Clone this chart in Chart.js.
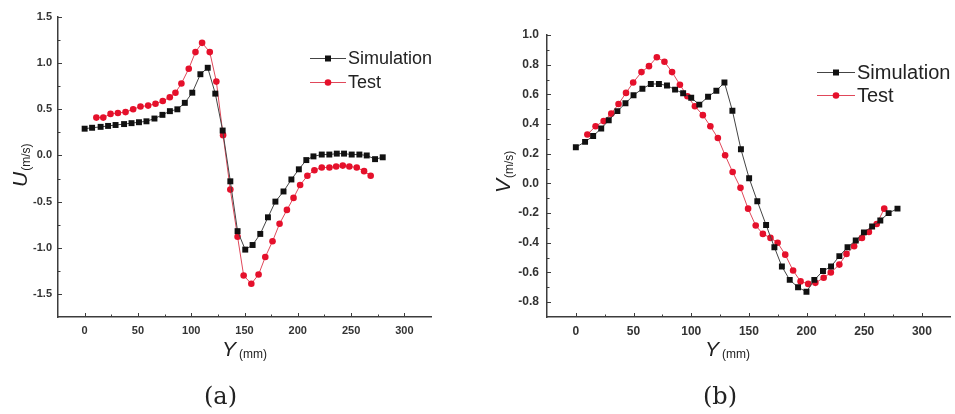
<!DOCTYPE html>
<html>
<head>
<meta charset="utf-8">
<script src="https://cdn.jsdelivr.net/npm/chart.js@4.4.1/dist/chart.umd.min.js"></script>
<style>
  html, body { margin: 0; padding: 0; background: #fff; }
  body { width: 955px; height: 414px; position: relative; overflow: hidden; }
  .panel { position: absolute; top: 0; height: 414px; }
  #panelA { left: 0; width: 470px; }
  #panelB { left: 470px; width: 485px; }
  .caption { position: absolute; font-family: "DejaVu Serif", "Liberation Serif", serif; font-size: 24px; color: #222; line-height: 24px; }
</style>
</head>
<body>
<div class="panel" id="panelA"><canvas id="chartA" width="470" height="414"></canvas></div>
<div class="panel" id="panelB"><canvas id="chartB" width="485" height="414"></canvas></div>
<div class="caption" style="left:204px; top:384px;">(a)</div>
<div class="caption" style="left:703px; top:384px;">(b)</div>
<script>
// Y positions (mm) and velocity readings for both panels
const simXA = [0, 7, 15, 22, 29, 37, 44, 51, 58, 65.5, 73, 80, 87, 94, 101, 108.6, 115.5, 122.6, 129.5, 136.7,
  143.5, 150.7, 157.6, 164.8, 172, 179, 186.6, 194, 201, 208, 214.7, 222.5, 229.6, 236.6, 243.4, 250.6, 257.8, 264.7, 272.5, 279.7];
const simUA = [0.29, 0.30, 0.31, 0.32, 0.33, 0.34, 0.35, 0.36, 0.37, 0.40, 0.44, 0.48, 0.50, 0.57, 0.68, 0.88, 0.95, 0.67, 0.27, -0.28,
  -0.82, -1.02, -0.97, -0.85, -0.67, -0.50, -0.39, -0.26, -0.15, -0.05, -0.01, 0.01, 0.01, 0.02, 0.02, 0.01, 0.01, 0.0, -0.04, -0.02];
const testXA = [11, 17.5, 24.3, 31.2, 38.4, 45.5, 52.4, 59.6, 66.5, 73.3, 79.9, 85.2, 90.8, 97.7, 104, 110.2, 117.4, 123.6, 129.9, 136.7,
  143.5, 149.2, 156.4, 163.2, 169.5, 176.3, 182.9, 189.8, 196, 202.2, 209, 215.6, 222.5, 229.7, 236, 242.2, 248.4, 255.3, 262.2, 268.4];
const testUA = [0.41, 0.41, 0.45, 0.46, 0.47, 0.50, 0.53, 0.54, 0.56, 0.59, 0.63, 0.68, 0.78, 0.94, 1.12, 1.22, 1.12, 0.80, 0.22, -0.37,
  -0.88, -1.30, -1.39, -1.29, -1.10, -0.93, -0.74, -0.59, -0.46, -0.32, -0.22, -0.16, -0.13, -0.13, -0.12, -0.11, -0.12, -0.13, -0.17, -0.22];

const simXB = [0, 8, 15, 22, 28.5, 36, 43, 50, 57.7, 65, 72, 79, 86, 93, 100, 107, 114.6, 121.8, 128.8, 135.7,
  143.1, 150.2, 157.3, 164.9, 172.1, 178.6, 185.4, 192.6, 199.9, 206.7, 214.2, 221.2, 228.4, 235.5, 242.6, 249.7, 256.8, 263.9, 271.1, 278.8];
const simVB = [0.244, 0.28, 0.32, 0.37, 0.425, 0.487, 0.54, 0.594, 0.638, 0.67, 0.67, 0.66, 0.632, 0.607, 0.577, 0.531, 0.584, 0.625, 0.68, 0.49,
  0.23, 0.035, -0.12, -0.28, -0.43, -0.56, -0.65, -0.70, -0.73, -0.65, -0.59, -0.56, -0.49, -0.43, -0.385, -0.33, -0.29, -0.25, -0.20, -0.17];
const testXB = [10, 17.1, 24.1, 30.7, 37, 43.5, 49.7, 56.9, 63.4, 70.2, 76.8, 83.4, 90.2, 96.7, 103.2, 110.1, 116.6, 123.1, 129.4, 135.9,
  142.7, 149.3, 155.9, 162.1, 168.7, 174.9, 181.5, 188.3, 194.8, 201.4, 207.6, 214.8, 221, 228.4, 234.6, 241.2, 248, 254, 260.8, 267.3];
const testVB = [0.33, 0.385, 0.42, 0.47, 0.535, 0.61, 0.68, 0.75, 0.79, 0.85, 0.82, 0.75, 0.665, 0.587, 0.52, 0.46, 0.385, 0.306, 0.19, 0.077,
  -0.03, -0.17, -0.284, -0.34, -0.367, -0.40, -0.48, -0.587, -0.66, -0.677, -0.67, -0.636, -0.60, -0.547, -0.475, -0.423, -0.367, -0.327, -0.273, -0.17];

// Tick labels
const xTicks = [0, 50, 100, 150, 200, 250, 300];
const uTicks = [-1.5, -1.0, -0.5, 0.0, 0.5, 1.0, 1.5];
const vTicks = [-0.8, -0.6, -0.4, -0.2, 0.0, 0.2, 0.4, 0.6, 0.8, 1.0];
const seriesNames = ['Simulation', 'Test'];

const SIM_COLOR = '#111';
const SIM_LINE = '#444';
const TEST_COLOR = '#e5102b';
const TEST_LINE = '#e0485a';
const AXIS_COLOR = '#3c3c3c';

Chart.defaults.font.family = '"Liberation Sans", Arial, sans-serif';

const toPoints = (xs, ys) => xs.map((x, i) => ({ x: x, y: ys[i] }));

// midpoints between major ticks, used for the short minor ticks
const minorsOf = majors => majors.slice(1).map((v, i) => (v + majors[i]) / 2);

// inward major/minor tick marks on both axes
const innerTicks = {
  id: 'innerTicks',
  afterDraw(chart, args, opts) {
    const ctx = chart.ctx;
    const xs = chart.scales.x, ys = chart.scales.y;
    const area = chart.chartArea;
    ctx.save();
    ctx.strokeStyle = AXIS_COLOR;
    ctx.lineWidth = 1;
    ctx.beginPath();
    const xMinor = minorsOf(opts.xMajor).concat([opts.xMajor[opts.xMajor.length - 1] + 25]);
    opts.xMajor.forEach(v => { const p = Math.round(xs.getPixelForValue(v)) + 0.5; ctx.moveTo(p, area.bottom); ctx.lineTo(p, area.bottom - 4); });
    xMinor.forEach(v => { if (v >= xs.max) return; const p = Math.round(xs.getPixelForValue(v)) + 0.5; ctx.moveTo(p, area.bottom); ctx.lineTo(p, area.bottom - 2.5); });
    opts.yMajor.forEach(v => { const p = Math.round(ys.getPixelForValue(v)) + 0.5; ctx.moveTo(area.left, p); ctx.lineTo(area.left + 4, p); });
    minorsOf(opts.yMajor).forEach(v => { const p = Math.round(ys.getPixelForValue(v)) + 0.5; ctx.moveTo(area.left, p); ctx.lineTo(area.left + 2.5, p); });
    ctx.stroke();
    ctx.restore();
  }
};

// axis titles with italic symbol and small unit, plus line+marker legend
const panelText = {
  id: 'panelText',
  afterDraw(chart, args, opts) {
    const ctx = chart.ctx;
    ctx.save();
    ctx.fillStyle = '#222';
    ctx.textBaseline = 'alphabetic';
    ctx.textAlign = 'left';

    // x title: "Y (mm)"
    const xt = opts.xTitle;
    ctx.font = 'italic ' + xt.size + 'px "Liberation Sans", Arial, sans-serif';
    ctx.fillText(xt.sym, xt.x, xt.y);
    const symW = ctx.measureText(xt.sym).width;
    ctx.font = xt.sub + 'px "Liberation Sans", Arial, sans-serif';
    ctx.fillText(xt.unit, xt.x + symW + 3, xt.y + 2);

    // y title, rotated to read bottom-to-top
    const yt = opts.yTitle;
    ctx.save();
    ctx.translate(yt.x, yt.y);
    ctx.rotate(-Math.PI / 2);
    ctx.font = 'italic ' + yt.size + 'px "Liberation Sans", Arial, sans-serif';
    ctx.fillText(yt.sym, 0, 0);
    const ySymW = ctx.measureText(yt.sym).width;
    ctx.font = yt.sub + 'px "Liberation Sans", Arial, sans-serif';
    ctx.fillText(yt.unit, ySymW + 1, 3);
    ctx.restore();

    // legend
    const lg = opts.legend;
    chart.data.datasets.forEach((ds, i) => {
      const y = lg.y + i * lg.gap;
      ctx.strokeStyle = i === 0 ? SIM_LINE : TEST_LINE;
      ctx.lineWidth = 1;
      ctx.beginPath();
      ctx.moveTo(lg.x, y + 0.5);
      ctx.lineTo(lg.x + lg.len, y + 0.5);
      ctx.stroke();
      ctx.fillStyle = ds.pointBackgroundColor;
      const cx = lg.x + lg.len / 2;
      if (ds.pointStyle === 'rect') {
        ctx.fillRect(cx - 3, y - 2.5, 6, 6);
      } else {
        ctx.beginPath();
        ctx.arc(cx, y + 0.5, 3.3, 0, Math.PI * 2);
        ctx.fill();
      }
      ctx.fillStyle = '#222';
      ctx.font = lg.size + 'px "Liberation Sans", Arial, sans-serif';
      ctx.textBaseline = 'middle';
      ctx.fillText(ds.label, lg.x + lg.len + 2, y + 1);
      ctx.textBaseline = 'alphabetic';
    });
    ctx.restore();
  }
};

function makePanel(id, cfg) {
  return new Chart(document.getElementById(id), {
    type: 'line',
    data: {
      datasets: [
        {
          label: seriesNames[0], data: toPoints(cfg.simX, cfg.simY),
          borderColor: SIM_LINE, borderWidth: 1, tension: 0,
          pointStyle: 'rect', pointRadius: 4.2, pointBorderWidth: 0,
          pointBackgroundColor: SIM_COLOR
        },
        {
          label: seriesNames[1], data: toPoints(cfg.testX, cfg.testY),
          borderColor: TEST_LINE, borderWidth: 1, tension: 0,
          pointStyle: 'circle', pointRadius: 3.3, pointBorderWidth: 0,
          pointBackgroundColor: TEST_COLOR
        }
      ]
    },
    options: {
      responsive: false,
      animation: false,
      layout: { padding: { left: 0, top: cfg.top, right: cfg.right, bottom: 0 } },
      scales: {
        x: {
          type: 'linear', min: -25, max: 325,
          grid: { display: false, drawTicks: false },
          border: { display: true, color: AXIS_COLOR, width: 1.5 },
          ticks: {
            autoSkip: false, maxRotation: 0, padding: 7, color: '#333',
            font: { size: cfg.tickSize, weight: 'bold' },
            callback: v => String(v)
          },
          afterBuildTicks: s => { s.ticks = xTicks.map(v => ({ value: v })); },
          afterFit: s => { s.height = 414 - 317; }
        },
        y: {
          min: cfg.yMin, max: cfg.yMax,
          grid: { display: false, drawTicks: false },
          border: { display: true, color: AXIS_COLOR, width: 1.5 },
          ticks: {
            autoSkip: false, padding: cfg.yPad, color: '#333',
            font: { size: cfg.tickSize, weight: 'bold' },
            callback: v => v.toFixed(1)
          },
          afterBuildTicks: s => { s.ticks = cfg.yTicks.map(v => ({ value: v })); },
          afterFit: s => { s.width = cfg.left; }
        }
      },
      plugins: {
        legend: { display: false },
        tooltip: { enabled: false },
        innerTicks: { xMajor: xTicks, yMajor: cfg.yTicks },
        panelText: cfg.text
      }
    },
    plugins: [innerTicks, panelText]
  });
}

makePanel('chartA', {
  simX: simXA, simY: simUA, testX: testXA, testY: testUA,
  yMin: -1.75, yMax: 1.5, yTicks: uTicks,
  left: 58, top: 17, right: 470 - 431, tickSize: 11, yPad: 6,
  text: {
    xTitle: { sym: 'Y', unit: '(mm)', size: 21, sub: 12, x: 222, y: 356 },
    yTitle: { sym: 'U', unit: '(m/s)', size: 21, sub: 12, x: 27, y: 187 },
    legend: { x: 310, y: 58, gap: 24, len: 36, size: 18 }
  }
});

makePanel('chartB', {
  simX: simXB, simY: simVB, testX: testXB, testY: testVB,
  yMin: -0.9, yMax: 1.0, yTicks: vTicks,
  left: 77, top: 35, right: 0, tickSize: 12, yPad: 8,
  text: {
    xTitle: { sym: 'Y', unit: '(mm)', size: 21, sub: 12, x: 705 - 470, y: 356 },
    yTitle: { sym: 'V', unit: '(m/s)', size: 21, sub: 12, x: 510 - 470, y: 193 },
    legend: { x: 817 - 470, y: 72, gap: 23, len: 38, size: 20 }
  }
});
</script>
</body>
</html>
